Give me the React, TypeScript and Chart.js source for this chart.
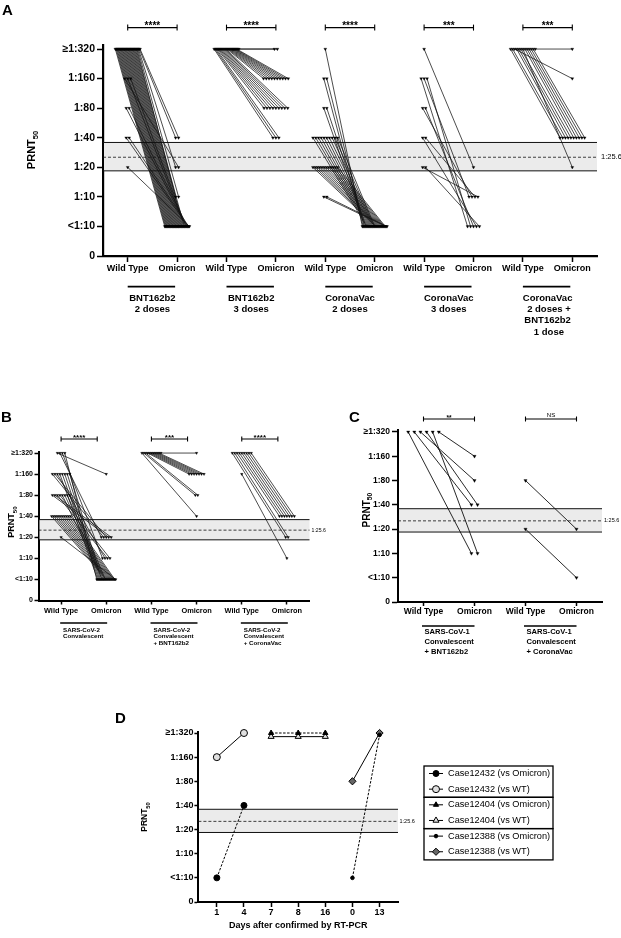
import React, { useEffect, useRef } from 'react';
import { Chart, registerables } from 'chart.js';

Chart.register(...registerables);

const FONT = "'Liberation Sans', Arial, Helvetica, sans-serif";
Chart.defaults.font.family = FONT;
Chart.defaults.color = '#000';

// ---------- shared axis data ----------
const yLevels = [0, 1, 2, 3, 4, 5, 6, 7];
const yLevelLabels = ['0', '<1:10', '1:10', '1:20', '1:40', '1:80', '1:160', '≥1:320'];
const pairTickLabels = ['Wild Type', 'Omicron'];
const cutoffValue = 3.34;
const cutoffBand = [2.88, 3.84];
const cutoffLabel = '1:25.6';

// ---------- Panel A ----------
const aBnt2Wt = [7,7,7,7,7,7,7,7,7,7, 7,7,7,7,7,7,7,7,7,7, 7,7,7,7,7,7,7,7,7,7, 7,7,6,6,6,5,5,4,4,3];
const aBnt2Om = [1,1,1,1,1,1,1,1,1,1, 1,1,1,1,1,1,1,1,1,1, 1,1,1,1,1,1,1,2,2,3, 4,4,3,1,1,1,1,1,1,1];
const aBnt3Wt = [7,7,7,7,7,7,7,7,7,7,7,7,7,7,7,7,7,7,7,7,7,7,7,7];
const aBnt3Om = [4,4,4,5,5,5,5,5,5,5,5,5,6,6,6,6,6,6,6,6,6,6,7,7];
const aCv2Wt = [7,6,6,5,5,4,4,4,4,4,4,4,4,4,4,3,3,3,3,3,3,3,3,3,3,3,3,2,2];
const aCv2Om = [1,1,1,1,1,1,1,1,1,1,1,1,1,1,1,1,1,1,1,1,1,1,1,1,1,1,1,1,1];
const aCv3Wt = [7,6,6,6,5,5,4,4,3,3];
const aCv3Om = [3,1,2,1,2,1,1,2,2,1];
const aCvBntWt = [7,7,7,7,7,7,7,7,7,7,7,7,7];
const aCvBntOm = [4,4,6,4,4,4,3,4,4,4,4,4,7];
const aGroupLabels = [
  ['BNT162b2', '2 doses'],
  ['BNT162b2', '3 doses'],
  ['CoronaVac', '2 doses'],
  ['CoronaVac', '3 doses'],
  ['CoronaVac', ' 2 doses +', 'BNT162b2', ' 1 dose'],
];
const aSignif = ['****', '****', '****', '***', '***'];

// ---------- Panel B ----------
const bConvWt = [7,7,7,7, 6,6,6,6,6,6,6,6, 5,5,5,5,5,5,5,5, 4,4,4,4,4,4,4,4,4,4, 3];
const bConvOm = [6,3,2,1, 3,3,2,1,1,1,1,1, 3,3,2,2,1,1,1,1, 1,1,1,1,1,1,1,1,1,1, 1];
const bConvBntWt = [7,7,7,7,7,7,7,7,7,7,7];
const bConvBntOm = [4,5,5,6,6,6,6,6,6,6,7];
const bConvCvWt = [6,7,7,7,7,7,7,7,7,7];
const bConvCvOm = [2,3,3,4,4,4,4,4,4,4];
const bGroupLabels = [
  ['SARS-CoV-2', 'Convalescent'],
  ['SARS-CoV-2', 'Convalescent', '+ BNT162b2'],
  ['SARS-CoV-2', 'Convalescent', '+ CoronaVac'],
];
const bSignif = ['****', '***', '****'];

// ---------- Panel C ----------
const cBntWt = [7,7,7,7,7,7];
const cBntOm = [2,4,5,4,2,6];
const cCvWt = [5,3];
const cCvOm = [3,1];
const cGroupLabels = [
  ['SARS-CoV-1', 'Convalescent', '+ BNT162b2'],
  ['SARS-CoV-1', 'Convalescent', '+ CoronaVac'],
];
const cSignif = ['**', 'NS'];

// ---------- Panel D ----------
const dDayLabels = ['1', '4', '7', '8', '16', '0', '13'];
const d12432Days = ['1', '4'];
const d12432Om = [1, 4];
const d12432Wt = [6, 7];
const d12404Days = ['7', '8', '16'];
const d12404Om = [7, 7, 7];
const d12404Wt = [6.85, 6.85, 6.85];
const d12388Days = ['0', '13'];
const d12388Om = [1, 6.92];
const d12388Wt = [5, 7];
const dLegendLabels = [
  'Case12432 (vs Omicron)', 'Case12432 (vs WT)',
  'Case12404 (vs Omicron)', 'Case12404 (vs WT)',
  'Case12388 (vs Omicron)', 'Case12388 (vs WT)',
];
const dXTitle = 'Days after confirmed by RT-PCR';

// ---------- helpers ----------
function jitter(levels: number[], base: number, step: number, cap: number): number[] {
  const counts: Record<number, number> = {};
  levels.forEach((v) => { counts[v] = (counts[v] || 0) + 1; });
  const seen: Record<number, number> = {};
  return levels.map((v) => {
    const n = counts[v];
    const k = (seen[v] = (seen[v] ?? -1) + 1);
    const s = n > 1 ? Math.min(step, cap / (n - 1)) : 0;
    return base + (k - (n - 1) / 2) * s;
  });
}

function seg(ctx: CanvasRenderingContext2D, x1: number, y1: number, x2: number, y2: number) {
  ctx.beginPath(); ctx.moveTo(x1, y1); ctx.lineTo(x2, y2); ctx.stroke();
}

function write(ctx: CanvasRenderingContext2D, s: string, x: number, y: number, size: number,
  weight: string, align: CanvasTextAlign, baseline: CanvasTextBaseline) {
  ctx.font = `${weight} ${size}px ${FONT}`;
  ctx.fillStyle = '#000';
  ctx.textAlign = align;
  ctx.textBaseline = baseline;
  ctx.fillText(s, x, y);
}

function drawPrnt(ctx: CanvasRenderingContext2D, cx: number, cy: number, size: number) {
  ctx.save();
  ctx.translate(cx, cy);
  ctx.rotate(-Math.PI / 2);
  const sub = size * 0.68;
  ctx.font = `bold ${size}px ${FONT}`;
  const w1 = ctx.measureText('PRNT').width;
  ctx.font = `bold ${sub}px ${FONT}`;
  const w2 = ctx.measureText('50').width;
  const x0 = -(w1 + w2) / 2;
  write(ctx, 'PRNT', x0, 0, size, 'bold', 'left', 'middle');
  write(ctx, '50', x0 + w1, size * 0.35, sub, 'bold', 'left', 'middle');
  ctx.restore();
}

function drawMarker(ctx: CanvasRenderingContext2D, style: string, x: number, y: number, r: number, fill: string) {
  ctx.beginPath();
  if (style === 'circle') {
    ctx.arc(x, y, r, 0, Math.PI * 2);
  } else if (style === 'triangle') {
    ctx.moveTo(x, y - r);
    ctx.lineTo(x + r * 0.866, y + r * 0.5);
    ctx.lineTo(x - r * 0.866, y + r * 0.5);
    ctx.closePath();
  } else {
    ctx.moveTo(x, y - r); ctx.lineTo(x + r, y); ctx.lineTo(x, y + r); ctx.lineTo(x - r, y); ctx.closePath();
  }
  ctx.fillStyle = fill; ctx.fill();
  ctx.strokeStyle = '#000'; ctx.lineWidth = 1; ctx.setLineDash([]); ctx.stroke();
}

type Decor = {
  bandLabelFont: number; bandLabelDx: number;
  title: { x: number; y: number; size: number };
  letter: { text: string; x: number; y: number; size: number };
  groups?: {
    labels: string[][]; sig: string[]; bracketDy: number; bracketFont: number; bracketH: number;
    bracketLen: number | null; underlineDy: number; underlineW: number; ulFrom: number; ulTo: number;
    textAlign: 'center' | 'left'; textDx: number; textDy0: number; textStep: number; groupFont: number;
  };
  xTitle?: { text: string; dy: number; size: number };
  legend?: { x: number; y: number; w: number; bh: number; styles: { shape: string; fill: string; r: number; dash: boolean }[] };
};

function decorPlugin(d: Decor) {
  return {
    id: 'decor',
    beforeDatasetsDraw(chart: any) {
      const { ctx, chartArea: a } = chart;
      const y = chart.scales.y;
      const yt = y.getPixelForValue(cutoffBand[1]);
      const yb = y.getPixelForValue(cutoffBand[0]);
      const yc = y.getPixelForValue(cutoffValue);
      ctx.save();
      ctx.fillStyle = '#ebebeb';
      ctx.fillRect(a.left + 1, yt, a.right - a.left - 1, yb - yt);
      ctx.strokeStyle = '#111';
      ctx.lineWidth = 1;
      seg(ctx, a.left, yt, a.right, yt);
      seg(ctx, a.left, yb, a.right, yb);
      ctx.setLineDash([3, 2]);
      ctx.lineWidth = 0.8;
      seg(ctx, a.left, yc, a.right, yc);
      ctx.restore();
    },
    afterDraw(chart: any) {
      const { ctx, chartArea: a } = chart;
      const x = chart.scales.x;
      const y = chart.scales.y;
      ctx.save();
      write(ctx, cutoffLabel, a.right + d.bandLabelDx, y.getPixelForValue(cutoffValue), d.bandLabelFont, 'normal', 'left', 'middle');
      drawPrnt(ctx, d.title.x, d.title.y, d.title.size);
      write(ctx, d.letter.text, d.letter.x, d.letter.y, d.letter.size, 'bold', 'left', 'alphabetic');
      const g = d.groups;
      if (g) {
        g.labels.forEach((lines, gi) => {
          const wt = 0.5 + 2 * gi;
          const om = 1.5 + 2 * gi;
          const xw = x.getPixelForValue(wt);
          const xo = x.getPixelForValue(om);
          const bx1 = xw;
          const bx2 = g.bracketLen == null ? xo : x.getPixelForValue(wt + g.bracketLen);
          const by = a.top - g.bracketDy;
          ctx.strokeStyle = '#000';
          ctx.lineWidth = 1.1;
          ctx.setLineDash([]);
          seg(ctx, bx1, by, bx2, by);
          seg(ctx, bx1, by - g.bracketH, bx1, by + g.bracketH);
          seg(ctx, bx2, by - g.bracketH, bx2, by + g.bracketH);
          const s = g.sig[gi];
          if (s === 'NS') write(ctx, s, (bx1 + bx2) / 2, by - 2, g.bracketFont * 0.95, 'normal', 'center', 'alphabetic');
          else write(ctx, s, (bx1 + bx2) / 2, by + 1, g.bracketFont, 'bold', 'center', 'alphabetic');
          const uy = a.bottom + g.underlineDy;
          ctx.lineWidth = g.underlineW;
          seg(ctx, x.getPixelForValue(wt + g.ulFrom), uy, x.getPixelForValue(om + g.ulTo), uy);
          const tx = g.textAlign === 'center' ? (xw + xo) / 2 : xw + g.textDx;
          lines.forEach((t, li) => {
            write(ctx, t, tx, a.bottom + g.textDy0 + li * g.textStep, g.groupFont, 'bold', g.textAlign, 'middle');
          });
        });
      }
      if (d.xTitle) {
        write(ctx, d.xTitle.text, (a.left + a.right) / 2, a.bottom + d.xTitle.dy, d.xTitle.size, 'bold', 'center', 'middle');
      }
      const L = d.legend;
      if (L) {
        ctx.strokeStyle = '#000';
        ctx.lineWidth = 1.3;
        for (let b = 0; b < 3; b++) ctx.strokeRect(L.x, L.y + b * L.bh, L.w, L.bh);
        dLegendLabels.forEach((lab, i) => {
          const ey = L.y + Math.floor(i / 2) * L.bh + (i % 2 ? L.bh * 0.74 : L.bh * 0.24);
          const st = L.styles[i];
          ctx.strokeStyle = '#000';
          ctx.lineWidth = 1;
          ctx.setLineDash([]);
          seg(ctx, L.x + 5, ey, L.x + 19, ey);
          drawMarker(ctx, st.shape, L.x + 12, ey, st.r, st.fill);
          write(ctx, lab, L.x + 24, ey, 9.2, 'normal', 'left', 'middle');
        });
      }
      ctx.restore();
    },
  };
}

type PairStyle = {
  padTop: number; padRight: number; yW: number; xH: number; yMax: number; axisW: number;
  yFont: number; xFont: number; yTick: number; yPad: number; xTick: number; xPad: number;
  step: number; cap: number; pointR: number; lineW: number;
};

function axisCommon(axisW: number, tickLen: number) {
  return {
    grid: { display: true, drawOnChartArea: false, drawTicks: true, tickLength: tickLen, tickWidth: 1.5, tickColor: '#000', color: '#000' },
    border: { display: true, color: '#000', width: axisW },
  };
}

function pairConfig(s: PairStyle, wts: number[][], oms: number[][], decor: Decor) {
  const datasets = wts.map((wt, gi) => {
    const om = oms[gi];
    const wx = jitter(wt, 0.5 + 2 * gi, s.step, s.cap);
    const ox = jitter(om, 1.5 + 2 * gi, s.step, s.cap);
    const data: any[] = [];
    wt.forEach((v, i) => {
      data.push({ x: wx[i], y: v }, { x: ox[i], y: om[i] }, { x: ox[i], y: null });
    });
    return {
      data, borderColor: '#111', borderWidth: s.lineW, pointStyle: 'triangle', rotation: 180,
      pointRadius: s.pointR, pointHoverRadius: s.pointR, pointBackgroundColor: '#000', pointBorderColor: '#000',
      pointBorderWidth: 0.3, spanGaps: false, tension: 0, fill: false, clip: false,
    };
  });
  const xTicks: number[] = [];
  wts.forEach((_, gi) => { xTicks.push(0.5 + 2 * gi, 1.5 + 2 * gi); });
  return {
    type: 'line',
    data: { datasets },
    options: {
      responsive: false, animation: false, devicePixelRatio: 1, events: [],
      layout: { padding: { left: 0, top: s.padTop, right: s.padRight, bottom: 0 } },
      plugins: { legend: { display: false }, tooltip: { enabled: false } },
      scales: {
        x: {
          type: 'linear', min: 0, max: 2 * wts.length,
          afterBuildTicks: (sc: any) => { sc.ticks = xTicks.map((v) => ({ value: v })); },
          afterFit: (sc: any) => { sc.height = s.xH; },
          ticks: {
            autoSkip: false, maxRotation: 0, minRotation: 0, padding: s.xPad, color: '#000',
            font: { family: FONT, size: s.xFont, weight: 'bold' },
            callback: (_v: any, i: number) => pairTickLabels[i % 2],
          },
          ...axisCommon(s.axisW, s.xTick),
        },
        y: {
          type: 'linear', min: 0, max: s.yMax,
          afterBuildTicks: (sc: any) => { sc.ticks = yLevels.map((v) => ({ value: v })); },
          afterFit: (sc: any) => { sc.width = s.yW; },
          ticks: {
            autoSkip: false, padding: s.yPad, color: '#000',
            font: { family: FONT, size: s.yFont, weight: 'bold' },
            callback: (_v: any, i: number) => yLevelLabels[i],
          },
          ...axisCommon(s.axisW, s.yTick),
        },
      },
    },
    plugins: [decorPlugin(decor)],
  };
}

function configA() {
  return pairConfig(
    { padTop: 44.6, padRight: 24, yW: 103, xH: 89, yMax: 7.15, axisW: 2.2, yFont: 10.5, xFont: 9, yTick: 6, yPad: 2, xTick: 6, xPad: 1, step: 0.06, cap: 0.5, pointR: 1.7, lineW: 0.75 },
    [aBnt2Wt, aBnt3Wt, aCv2Wt, aCv3Wt, aCvBntWt],
    [aBnt2Om, aBnt3Om, aCv2Om, aCv3Om, aCvBntOm],
    {
      bandLabelFont: 7.5, bandLabelDx: 4,
      title: { x: 32, y: 150, size: 11 },
      letter: { text: 'A', x: 2, y: 15, size: 15 },
      groups: {
        labels: aGroupLabels, sig: aSignif, bracketDy: 17, bracketFont: 10, bracketH: 3, bracketLen: null,
        underlineDy: 30.7, underlineW: 1.8, ulFrom: 0, ulTo: -0.04, textAlign: 'center', textDx: 0,
        textDy0: 42, textStep: 11.3, groupFont: 9.5,
      },
    },
  );
}

function configB() {
  return pairConfig(
    { padTop: 47, padRight: 20.5, yW: 38.5, xH: 49.5, yMax: 7.05, axisW: 2, yFont: 7, xFont: 7.4, yTick: 4, yPad: 1.5, xTick: 4, xPad: 2, step: 0.055, cap: 0.42, pointR: 1.5, lineW: 0.75 },
    [bConvWt, bConvBntWt, bConvCvWt],
    [bConvOm, bConvBntOm, bConvCvOm],
    {
      bandLabelFont: 5.2, bandLabelDx: 2,
      title: { x: 12, y: 117, size: 9 },
      letter: { text: 'B', x: 1, y: 17, size: 15 },
      groups: {
        labels: bGroupLabels, sig: bSignif, bracketDy: 13, bracketFont: 8, bracketH: 2.5, bracketLen: 0.8,
        underlineDy: 22.5, underlineW: 1.5, ulFrom: -0.02, ulTo: 0.02, textAlign: 'left', textDx: 2,
        textDy0: 29.5, textStep: 6.7, groupFont: 6.2,
      },
    },
  );
}

function configC() {
  return pairConfig(
    { padTop: 30, padRight: 19, yW: 68, xH: 58, yMax: 7.08, axisW: 2, yFont: 8.5, xFont: 8.5, yTick: 6, yPad: 2, xTick: 4, xPad: 1, step: 0.12, cap: 0.65, pointR: 1.9, lineW: 0.9 },
    [cBntWt, cCvWt],
    [cBntOm, cCvOm],
    {
      bandLabelFont: 5.5, bandLabelDx: 2,
      title: { x: 37, y: 110, size: 10 },
      letter: { text: 'C', x: 19, y: 22, size: 15 },
      groups: {
        labels: cGroupLabels, sig: cSignif, bracketDy: 11, bracketFont: 6.5, bracketH: 2.5, bracketLen: null,
        underlineDy: 24, underlineW: 1.5, ulFrom: -0.03, ulTo: 0, textAlign: 'left', textDx: 1,
        textDy0: 30, textStep: 10, groupFont: 7.6,
      },
    },
  );
}

function configD() {
  const idx = (days: string[]) => days.map((dd) => dDayLabels.indexOf(dd));
  const mk = (days: string[], ys: number[], label: string, st: any) => ({
    label,
    data: idx(days).map((xv, i) => ({ x: xv, y: ys[i] })),
    borderColor: '#000', borderWidth: 1, pointBorderColor: '#000', pointBorderWidth: 1,
    tension: 0, fill: false, clip: false, ...st,
  });
  const styles = [
    { shape: 'circle', fill: '#000', r: 3, dash: true },
    { shape: 'circle', fill: '#e0e0e0', r: 3.5, dash: false },
    { shape: 'triangle', fill: '#000', r: 3, dash: true },
    { shape: 'triangle', fill: '#e0e0e0', r: 3.5, dash: false },
    { shape: 'circle', fill: '#000', r: 1.8, dash: true },
    { shape: 'diamond', fill: '#666', r: 3.6, dash: false },
  ];
  const ps = (i: number) => ({
    pointStyle: styles[i].shape === 'diamond' ? 'rectRot' : styles[i].shape,
    pointRadius: styles[i].r, pointHoverRadius: styles[i].r,
    pointBackgroundColor: styles[i].fill,
    borderDash: styles[i].dash ? [2.5, 1.5] : [],
  });
  const datasets = [
    mk(d12432Days, d12432Om, dLegendLabels[0], ps(0)),
    mk(d12432Days, d12432Wt, dLegendLabels[1], ps(1)),
    mk(d12404Days, d12404Om, dLegendLabels[2], ps(2)),
    mk(d12404Days, d12404Wt, dLegendLabels[3], ps(3)),
    mk(d12388Days, d12388Om, dLegendLabels[4], ps(4)),
    mk(d12388Days, d12388Wt, dLegendLabels[5], ps(5)),
  ];
  const decor: Decor = {
    bandLabelFont: 5.5, bandLabelDx: 1.5,
    title: { x: 45, y: 117, size: 8.5 },
    letter: { text: 'D', x: 15, y: 23, size: 15 },
    xTitle: { text: dXTitle, dy: 24, size: 9 },
    legend: { x: 324, y: 66, w: 129, bh: 31.3, styles },
  };
  return {
    type: 'line',
    data: { datasets },
    options: {
      responsive: false, animation: false, devicePixelRatio: 1, events: [],
      layout: { padding: { left: 0, top: 31.8, right: 223, bottom: 0 } },
      plugins: { legend: { display: false }, tooltip: { enabled: false } },
      scales: {
        x: {
          type: 'linear', min: -0.68, max: 6.68,
          afterBuildTicks: (sc: any) => { sc.ticks = dDayLabels.map((_l, i) => ({ value: i })); },
          afterFit: (sc: any) => { sc.height = 36; },
          ticks: {
            autoSkip: false, maxRotation: 0, minRotation: 0, padding: 0, color: '#000',
            font: { family: FONT, size: 9, weight: 'bold' },
            callback: (_v: any, i: number) => dDayLabels[i],
          },
          ...axisCommon(2, 5),
        },
        y: {
          type: 'linear', min: 0, max: 7.05,
          afterBuildTicks: (sc: any) => { sc.ticks = yLevels.map((v) => ({ value: v })); },
          afterFit: (sc: any) => { sc.width = 98.4; },
          ticks: {
            autoSkip: false, padding: 1, color: '#000',
            font: { family: FONT, size: 9, weight: 'bold' },
            callback: (_v: any, i: number) => yLevelLabels[i],
          },
          ...axisCommon(2, 4),
        },
      },
    },
    plugins: [decorPlugin(decor)],
  };
}

type Box = { x: number; y: number; w: number; h: number };

function ChartCanvas({ box, build }: { box: Box; build: () => any }) {
  const ref = useRef<HTMLCanvasElement | null>(null);
  useEffect(() => {
    if (!ref.current) return;
    const chart = new Chart(ref.current, build());
    return () => chart.destroy();
  }, []);
  return (
    <canvas
      ref={ref}
      width={box.w}
      height={box.h}
      style={{ position: 'absolute', left: box.x, top: box.y, width: box.w, height: box.h }}
    />
  );
}

export default function App() {
  return (
    <div style={{ position: 'absolute', left: 0, top: 0, width: 621, height: 938, background: '#fff', overflow: 'hidden' }}>
      <ChartCanvas box={{ x: 0, y: 0, w: 621, h: 345 }} build={configA} />
      <ChartCanvas box={{ x: 0, y: 405, w: 330, h: 245 }} build={configB} />
      <ChartCanvas box={{ x: 330, y: 400, w: 291, h: 260 }} build={configC} />
      <ChartCanvas box={{ x: 100, y: 700, w: 521, h: 238 }} build={configD} />
    </div>
  );
}
